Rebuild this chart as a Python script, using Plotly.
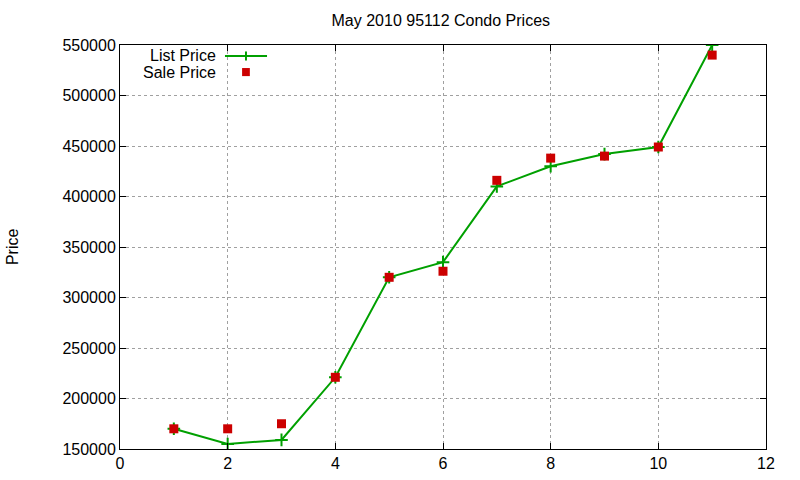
import plotly.graph_objects as go

units = [1, 2, 3, 4, 5, 6, 7, 8, 9, 10, 11]
list_price = [170000, 155000, 159000, 221000, 320000, 335000, 410000, 430000, 442000, 449000, 550000]
sale_price = [170000, 170000, 175000, 221000, 320000, 326000, 416000, 438000, 440000, 449000, 540000]

FONT = "Liberation Sans, Arial, sans-serif"
GREEN = "#00a000"
RED = "#cc0000"

fig = go.Figure()
fig.add_trace(go.Scatter(
    x=units, y=list_price, mode="lines", name="List Price",
    line=dict(color=GREEN, width=2), showlegend=False,
))
fig.add_trace(go.Scatter(
    x=units, y=list_price, mode="markers", showlegend=False, hoverinfo="skip",
    marker=dict(symbol="cross-thin", size=9, line=dict(color=GREEN, width=2)),
))
fig.add_trace(go.Scatter(
    x=units, y=sale_price, mode="markers", name="Sale Price",
    marker=dict(symbol="square", size=9, color=RED, line=dict(width=0)),
    showlegend=False,
))

axis_common = dict(
    showline=True, linecolor="black", linewidth=1, mirror="ticks",
    ticks="inside", ticklen=6, tickcolor="black", automargin=False,
    showgrid=True, gridcolor="#a0a0a0", griddash="dot", gridwidth=1,
    zeroline=False, tickfont=dict(family=FONT, size=16, color="black"),
)

fig.update_layout(
    width=800, height=480,
    margin=dict(l=120, r=34, t=45, b=31, autoexpand=False),
    paper_bgcolor="white", plot_bgcolor="white",
    title=dict(text="May 2010 95112 Condo Prices", x=0.551, xanchor="center",
               y=0.957, yanchor="middle", font=dict(family=FONT, size=16, color="black")),
    xaxis=dict(range=[0, 12], dtick=2, tick0=0, **axis_common),
    yaxis=dict(range=[150000, 550000], dtick=50000, tick0=150000,
               tickformat="d", **axis_common),
    font=dict(family=FONT, size=16, color="black"),
)

fig.add_annotation(text="Price", xref="paper", yref="paper", x=-0.167, y=0.5,
                   textangle=-90, showarrow=False, xanchor="center", yanchor="middle",
                   font=dict(family=FONT, size=16, color="black"))

# gnuplot-style legend (text right-aligned, sample on the right)
fig.add_annotation(text="List Price", xref="paper", yref="paper", x=0.152, y=0.9728,
                   showarrow=False, xanchor="right", yanchor="middle",
                   font=dict(family=FONT, size=16, color="black"))
fig.add_annotation(text="Sale Price", xref="paper", yref="paper", x=0.152, y=0.933,
                   showarrow=False, xanchor="right", yanchor="middle",
                   font=dict(family=FONT, size=16, color="black"))
fig.add_shape(type="line", xref="paper", yref="paper", x0=0.1625, x1=0.2276, y0=0.9728, y1=0.9728,
              line=dict(color=GREEN, width=2))
fig.add_shape(type="line", xref="paper", yref="paper", x0=0.195, x1=0.195, y0=0.9616, y1=0.984,
              line=dict(color=GREEN, width=2))
fig.add_shape(type="rect", xref="paper", yref="paper", x0=0.189, x1=0.201, y0=0.923, y1=0.943,
              line=dict(width=0), fillcolor=RED)

fig.write_html("out.html")
